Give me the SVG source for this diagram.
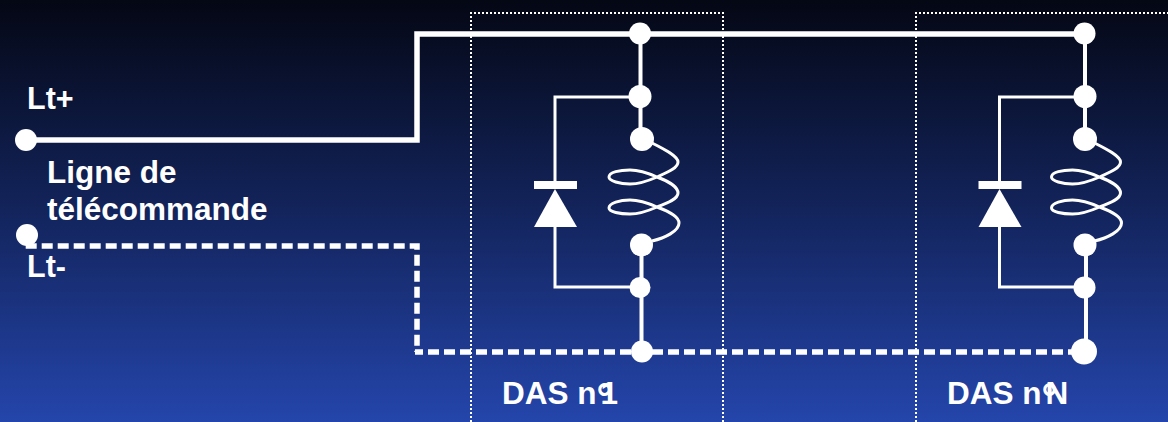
<svg xmlns="http://www.w3.org/2000/svg" width="1168" height="422" viewBox="0 0 1168 422">
<style>
.t{font-family:"Liberation Sans",Arial,sans-serif;font-weight:700;font-size:31.500px;fill:#fff}
.lt{font-size:30.500px}
.deg{font-size:40px}
.w{fill:none;stroke:#fff;stroke-linejoin:miter}
.dot{fill:#fff}
.box{fill:none;stroke:#fff;stroke-width:2;stroke-dasharray:2 2}
</style>
<defs>
<linearGradient id="bg" x1="0" y1="0" x2="0" y2="1">
<stop offset="0" stop-color="#040714"/>
<stop offset="0.5" stop-color="#13245c"/>
<stop offset="1" stop-color="#2445ab"/>
</linearGradient>
<g id="das">
<path class="w" stroke-width="4" d="M640.500 33V139M641.500 245V351"/>
<path class="w" stroke-width="3" d="M640 97H555V181M555 227V287H640"/>
<rect x="534" y="181" width="43" height="8" fill="#fff"/>
<path d="M555 189L577 227H534Z" fill="#fff"/>
</g>
<path id="coil" class="w" stroke-width="3" d="M652 143C664 149 678 156 678 162C678 168 668 172 657 177C648 181 638 184 630 184C620 184 609 181 609 177C609 172 620 170 630 170C640 170 648 173 657 177C668 181 678 187 678 193C678 199 668 203 657 207C648 211 638 214 630 214C620 214 609 212 609 208C609 203 620 200 630 200C640 200 648 203 657 207C668 211 679 217 679 223C679 231 665 238 652 241"/>
</defs>
<rect width="1168" height="422" fill="url(#bg)"/>
<g id="frames">
<path class="box" d="M471 422V13H723V422"/>
<path class="box" d="M916 422V13H1168"/>
</g>
<g id="connectors">
<path class="w" stroke-width="5.500" d="M26 140H417V34H1085"/>
<path class="w" stroke-width="5.500" stroke-dasharray="11 5" d="M25.700 246H417V352"/>
<path class="w" stroke-width="5.500" stroke-dasharray="11 5" stroke-dashoffset="3" d="M415 352H1085"/>
</g>
<g id="das1">
<use href="#das"/>
<use href="#coil"/>
<circle class="dot" cx="640" cy="33.500" r="11"/>
<circle class="dot" cx="640" cy="96.500" r="11.500"/>
<circle class="dot" cx="642" cy="139" r="12"/>
<circle class="dot" cx="641.500" cy="245" r="11.500"/>
<circle class="dot" cx="640" cy="287.500" r="10.500"/>
<circle class="dot" cx="642" cy="351.500" r="11"/>
<text class="t" x="502" y="404">DAS n<tspan class="deg" dy="8">°</tspan><tspan dx="-12" dy="-8">1</tspan></text>
</g>
<g id="dasN">
<use href="#das" x="444.500"/>
<use href="#coil" x="442.500"/>
<circle class="dot" cx="1084.500" cy="33.500" r="11"/>
<circle class="dot" cx="1085" cy="96.500" r="11.500"/>
<circle class="dot" cx="1085" cy="139" r="12"/>
<circle class="dot" cx="1085" cy="245" r="11.500"/>
<circle class="dot" cx="1084.500" cy="287.500" r="11"/>
<circle class="dot" cx="1084" cy="351.500" r="13"/>
<text class="t" x="947" y="404">DAS n<tspan class="deg" dy="8">°</tspan><tspan dx="-12" dy="-8">N</tspan></text>
</g>
<g id="ltp">
<circle class="dot" cx="26" cy="140" r="11"/>
<text class="t lt" x="27" y="109">Lt+</text>
</g>
<g id="ltm">
<circle class="dot" cx="27" cy="235" r="11"/>
<text class="t lt" x="27" y="277">Lt-</text>
</g>
<g id="label">
<text class="t" x="47" y="183">Ligne de</text>
<text class="t" x="47" y="220">télécommande</text>
</g>
</svg>
